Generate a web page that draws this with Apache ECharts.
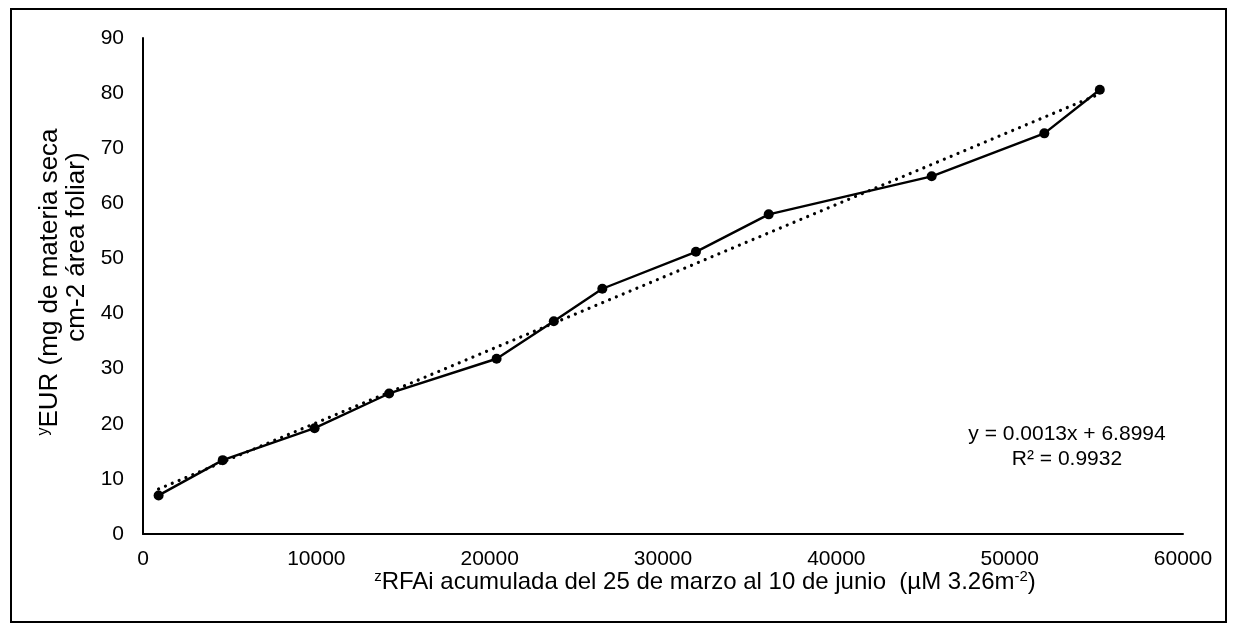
<!DOCTYPE html>
<html>
<head>
<meta charset="utf-8">
<script src="https://cdn.jsdelivr.net/npm/echarts@6/dist/echarts.min.js"></script>
<style>
  html, body { margin: 0; padding: 0; background: #fff; }
  #chart { width: 1237px; height: 632px; }
</style>
</head>
<body>
<div id="chart"></div>
<script>
// Accumulated intercepted PAR (x) and radiation use efficiency (y)
const rfaAcumulada = [900, 4600, 9900, 14200, 20400, 23700, 26500, 31900, 36100, 45500, 52000, 55200];
const eurValores   = [7.0, 13.4, 19.2, 25.5, 31.8, 38.6, 44.5, 51.2, 58.0, 64.9, 72.7, 80.6];
const xTicks = [0, 10000, 20000, 30000, 40000, 50000, 60000];
const yTicks = [0, 10, 20, 30, 40, 50, 60, 70, 80, 90];
const ecuacion = ['y = 0.0013x + 6.8994', 'R² = 0.9932'];

// Least-squares linear trend over the observed range
function ajusteLineal(xs, ys) {
  const n = xs.length;
  const mx = xs.reduce((a, b) => a + b, 0) / n;
  const my = ys.reduce((a, b) => a + b, 0) / n;
  let sxy = 0, sxx = 0;
  for (let i = 0; i < n; i++) {
    sxy += (xs[i] - mx) * (ys[i] - my);
    sxx += (xs[i] - mx) * (xs[i] - mx);
  }
  const b = sxy / sxx;
  const a = my - b * mx;
  return [[xs[0], a + b * xs[0]], [xs[n - 1], a + b * xs[n - 1]]];
}

const puntos = rfaAcumulada.map((x, i) => [x, eurValores[i]]);
const tendencia = ajusteLineal(rfaAcumulada, eurValores);

const FONT = '"Liberation Sans", Arial, sans-serif';
const chart = echarts.init(document.getElementById('chart'), null, { renderer: 'canvas' });

chart.setOption({
  backgroundColor: '#ffffff',
  animation: false,
  grid: { left: 143, right: 54, top: 38, bottom: 98, containLabel: false },
  xAxis: {
    type: 'value',
    min: xTicks[0],
    max: xTicks[xTicks.length - 1],
    interval: xTicks[1] - xTicks[0],
    axisLine: { show: true, onZero: false, lineStyle: { color: '#000', width: 2 } },
    axisTick: { show: false },
    splitLine: { show: false },
    axisLabel: {
      color: '#000', fontFamily: FONT, fontSize: 21, margin: 15,
      formatter: v => String(v)
    }
  },
  yAxis: {
    type: 'value',
    min: yTicks[0],
    max: yTicks[yTicks.length - 1],
    interval: yTicks[1] - yTicks[0],
    axisLine: { show: true, onZero: false, lineStyle: { color: '#000', width: 2 } },
    axisTick: { show: false },
    splitLine: { show: false },
    axisLabel: {
      color: '#000', fontFamily: FONT, fontSize: 21, margin: 19,
      formatter: v => String(v)
    }
  },
  series: [
    {
      name: 'EUR',
      type: 'line',
      data: puntos,
      symbol: 'circle',
      symbolSize: 10,
      itemStyle: { color: '#000' },
      lineStyle: { color: '#000', width: 2.4 },
      z: 3
    },
    {
      name: 'Lineal',
      type: 'line',
      data: tendencia,
      symbol: 'none',
      lineStyle: { color: '#000', width: 3.2, type: [0.01, 7.4], cap: 'round' },
      z: 2
    }
  ],
  graphic: [
    {
      type: 'rect',
      shape: { x: 11, y: 9, width: 1215, height: 613 },
      style: { fill: 'none', stroke: '#000', lineWidth: 2 },
      silent: true
    },
    {
      type: 'text',
      x: 705,
      y: 582,
      style: {
        text: '{sup|z}RFAi acumulada del 25 de marzo al 10 de junio  (µM 3.26m{sup|-2})',
        fontFamily: FONT,
        fontSize: 24,
        fill: '#000',
        align: 'center',
        verticalAlign: 'middle',
        rich: {
          sup: { fontSize: 15, fontFamily: FONT, fill: '#000', padding: [0, 0, 11, 0] }
        }
      }
    },
    {
      type: 'text',
      x: 50,
      y: 282,
      rotation: Math.PI / 2,
      style: {
        text: '{sup|y}EUR (mg de materia seca',
        fontFamily: FONT,
        fontSize: 26,
        fill: '#000',
        align: 'center',
        verticalAlign: 'middle',
        rich: {
          sup: { fontSize: 16, fontFamily: FONT, fill: '#000', padding: [0, 0, 12, 0] }
        }
      }
    },
    {
      type: 'text',
      x: 77,
      y: 247,
      rotation: Math.PI / 2,
      style: {
        text: 'cm-2 área foliar)',
        fontFamily: FONT,
        fontSize: 26,
        fill: '#000',
        align: 'center',
        verticalAlign: 'middle'
      }
    },
    {
      type: 'text',
      x: 1067,
      y: 434,
      style: {
        text: ecuacion[0],
        fontFamily: FONT,
        fontSize: 21,
        fill: '#000',
        align: 'center',
        verticalAlign: 'middle'
      }
    },
    {
      type: 'text',
      x: 1067,
      y: 459,
      style: {
        text: ecuacion[1],
        fontFamily: FONT,
        fontSize: 21,
        fill: '#000',
        align: 'center',
        verticalAlign: 'middle'
      }
    }
  ]
});
</script>
</body>
</html>
